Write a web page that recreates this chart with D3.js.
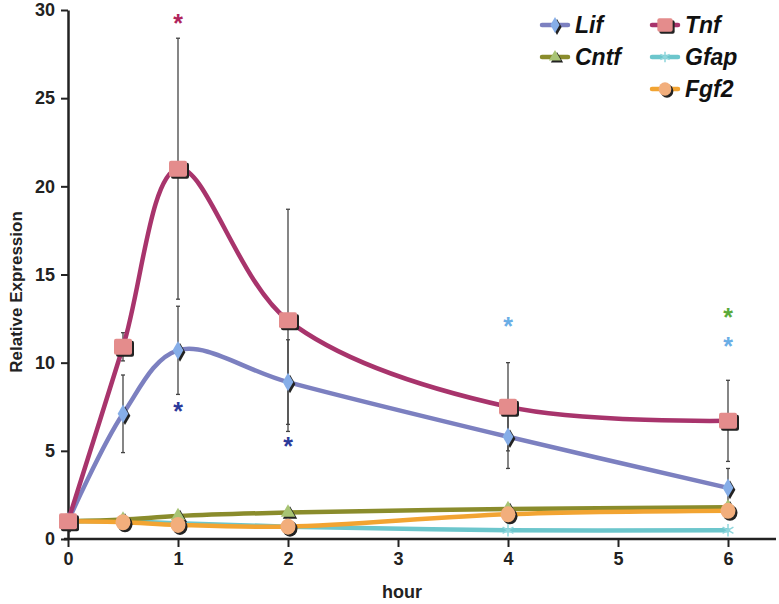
<!DOCTYPE html>
<html><head><meta charset="utf-8">
<script src="https://cdn.jsdelivr.net/npm/d3@7"></script>
<style>body{margin:0;background:#fff}svg{display:block}text{font-family:"Liberation Sans",Arial,sans-serif}</style>
</head><body><svg id="c" width="779" height="604"></svg>
<script>
const hours = [0, 0.5, 1, 2, 4, 6];
const xTicks = [0, 1, 2, 3, 4, 5, 6];
const yTicks = [0, 5, 10, 15, 20, 25, 30];
const lif  = [1, 7.1, 10.7, 8.9, 5.8, 2.9];
const lifErr = [0, 2.2, 2.5, 2.4, 1.8, 1.1];
const tnf  = [1, 10.9, 21.0, 12.4, 7.5, 6.7];
const tnfErr = [0, 0.8, 7.4, 6.3, 2.5, 2.3];
const cntf = [1, 1.1, 1.3, 1.5, 1.7, 1.8];
const gfap = [1, 1.0, 0.9, 0.7, 0.5, 0.5];
const fgf2 = [1, 0.95, 0.8, 0.7, 1.4, 1.6];
const stars = [
  {x: 1, y: 29.5, c: "#b0245c"},
  {x: 1, y: 7.5, c: "#2b3a9a"},
  {x: 2, y: 5.5, c: "#2b3a9a"},
  {x: 4, y: 12.3, c: "#6aaee6"},
  {x: 6, y: 11.2, c: "#6aaee6"},
  {x: 6, y: 12.8, c: "#5aaa3a"}
];

const svg = d3.select("#c");
const x = d3.scaleLinear().domain([0, 6]).range([68, 728]);
const y = d3.scaleLinear().domain([0, 30]).range([539, 10]);

// axes
const gx = svg.append("g").attr("transform", "translate(0,539)");
gx.append("line").attr("x1", 64).attr("x2", 776).attr("stroke", "#222").attr("stroke-width", 2.5);
gx.call(d3.axisBottom(x).tickValues(xTicks).tickFormat(d3.format("d")).tickSize(8).tickSizeOuter(0).tickPadding(5))
  .call(g => g.select(".domain").remove())
  .call(g => g.selectAll(".tick line").attr("stroke", "#222").attr("stroke-width", 2))
  .call(g => g.selectAll(".tick text").attr("font-size", 18).attr("font-weight", "bold").attr("fill", "#222"));
const gy = svg.append("g").attr("transform", "translate(68,0)");
gy.call(d3.axisLeft(y).tickValues(yTicks).tickFormat(d3.format("d")).tickSize(7).tickSizeOuter(0).tickPadding(6))
  .call(g => g.select(".domain").attr("stroke", "#222").attr("stroke-width", 2.5))
  .call(g => g.selectAll(".tick line").attr("stroke", "#222").attr("stroke-width", 2))
  .call(g => g.selectAll(".tick text").attr("font-size", 18).attr("font-weight", "bold").attr("fill", "#222"));

svg.append("text").attr("x", 402).attr("y", 598).attr("text-anchor", "middle")
  .attr("font-size", 18).attr("font-weight", "bold").attr("fill", "#222").text("hour");
svg.append("text").attr("transform", "translate(22,292) rotate(-90)").attr("text-anchor", "middle")
  .attr("font-size", 17).attr("font-weight", "bold").attr("fill", "#222").text("Relative Expression");

// error bars
function errBars(vals, errs) {
  const d = hours.map((h, i) => ({h, v: vals[i], e: errs[i]})).filter(d => d.e > 0);
  const g = svg.append("g").attr("stroke", "#444").attr("stroke-width", 1.3);
  g.selectAll("line.v").data(d).join("line")
    .attr("x1", d => x(d.h)).attr("x2", d => x(d.h))
    .attr("y1", d => y(d.v - d.e)).attr("y2", d => y(d.v + d.e));
  g.selectAll("line.t").data(d).join("line")
    .attr("x1", d => x(d.h) - 2).attr("x2", d => x(d.h) + 2)
    .attr("y1", d => y(d.v + d.e)).attr("y2", d => y(d.v + d.e));
  g.selectAll("line.b").data(d).join("line")
    .attr("x1", d => x(d.h) - 2).attr("x2", d => x(d.h) + 2)
    .attr("y1", d => y(d.v - d.e)).attr("y2", d => y(d.v - d.e));
}
errBars(tnf, tnfErr);
errBars(lif, lifErr);

const series = [
  {name: "Gfap", vals: gfap, line: "#6cc6cc", fill: "#8fd6dc", shape: "star"},
  {name: "Cntf", vals: cntf, line: "#8a8c2c", fill: "#a8c474", shape: "tri"},
  {name: "Fgf2", vals: fgf2, line: "#f2a432", fill: "#f2ae7c", shape: "circ"},
  {name: "Lif",  vals: lif,  line: "#7c80c0", fill: "#86aee8", shape: "diam"},
  {name: "Tnf",  vals: tnf,  line: "#a8346c", fill: "#e48c8c", shape: "sq"}
];

const lineGen = d3.line().x(d => x(d[0])).y(d => y(d[1])).curve(d3.curveCatmullRom.alpha(0.5));

function marker(g, shape, cx, cy, fill, stroke, s) {
  s = s || 1;
  const draw = (gg, dx, dy, f) => {
    if (shape === "sq") gg.append("rect").attr("x", cx - 9*s + dx).attr("y", cy - 8*s + dy).attr("width", 18*s).attr("height", 16*s).attr("rx", 2).attr("fill", f);
    else if (shape === "diam") gg.append("path").attr("d", d3.symbol(d3.symbolDiamond, 100*s*s)()).attr("transform", `translate(${cx+dx},${cy+dy})`).attr("fill", f);
    else if (shape === "tri") gg.append("path").attr("d", d3.symbol(d3.symbolTriangle, 90*s*s)()).attr("transform", `translate(${cx+dx},${cy+dy})`).attr("fill", f);
    else if (shape === "circ") gg.append("ellipse").attr("cx", cx + dx).attr("cy", cy + dy).attr("rx", 7.5*s).attr("ry", 8*s).attr("fill", f);
    else if (shape === "star") gg.append("path").attr("d", d3.symbol(d3.symbolAsterisk, 110*s*s)()).attr("transform", `translate(${cx+dx},${cy+dy})`).attr("fill", "none").attr("stroke", f).attr("stroke-width", 1.5);
  };
  if (shape !== "star") draw(g, 2, 2, "#222");
  draw(g, 0, 0, fill);
}

series.forEach(sr => {
  const pts = hours.map((h, i) => [h, sr.vals[i]]);
  svg.append("path").attr("d", lineGen(pts)).attr("fill", "none")
    .attr("stroke", sr.line).attr("stroke-width", 4.5).attr("stroke-linecap", "round");
  const g = svg.append("g");
  pts.forEach(p => marker(g, sr.shape, x(p[0]), y(p[1]), sr.fill, sr.line, 1));
});

// significance asterisks
svg.selectAll("text.star").data(stars).join("text")
  .attr("x", d => x(d.x)).attr("y", d => y(d.y) + 13).attr("text-anchor", "middle")
  .attr("font-size", 25).attr("font-weight", "bold").attr("fill", d => d.c).text("*");

// legend
const legend = [
  {name: "Lif",  sr: series[3], lx: 555, ly: 25},
  {name: "Cntf", sr: series[1], lx: 555, ly: 57},
  {name: "Tnf",  sr: series[4], lx: 665, ly: 25},
  {name: "Gfap", sr: series[0], lx: 665, ly: 57},
  {name: "Fgf2", sr: series[2], lx: 665, ly: 89}
];
legend.forEach(l => {
  svg.append("line").attr("x1", l.lx - 13).attr("x2", l.lx + 13).attr("y1", l.ly).attr("y2", l.ly)
    .attr("stroke", l.sr.line).attr("stroke-width", 4.5).attr("stroke-linecap", "round");
  const g = svg.append("g");
  marker(g, l.sr.shape, l.lx, l.ly, l.sr.fill, l.sr.line, 0.85);
  svg.append("text").attr("x", l.lx + 20).attr("y", l.ly + 8).attr("font-size", 23)
    .attr("font-weight", "bold").attr("font-style", "italic").attr("fill", "#111").text(l.name);
});
</script></body></html>
